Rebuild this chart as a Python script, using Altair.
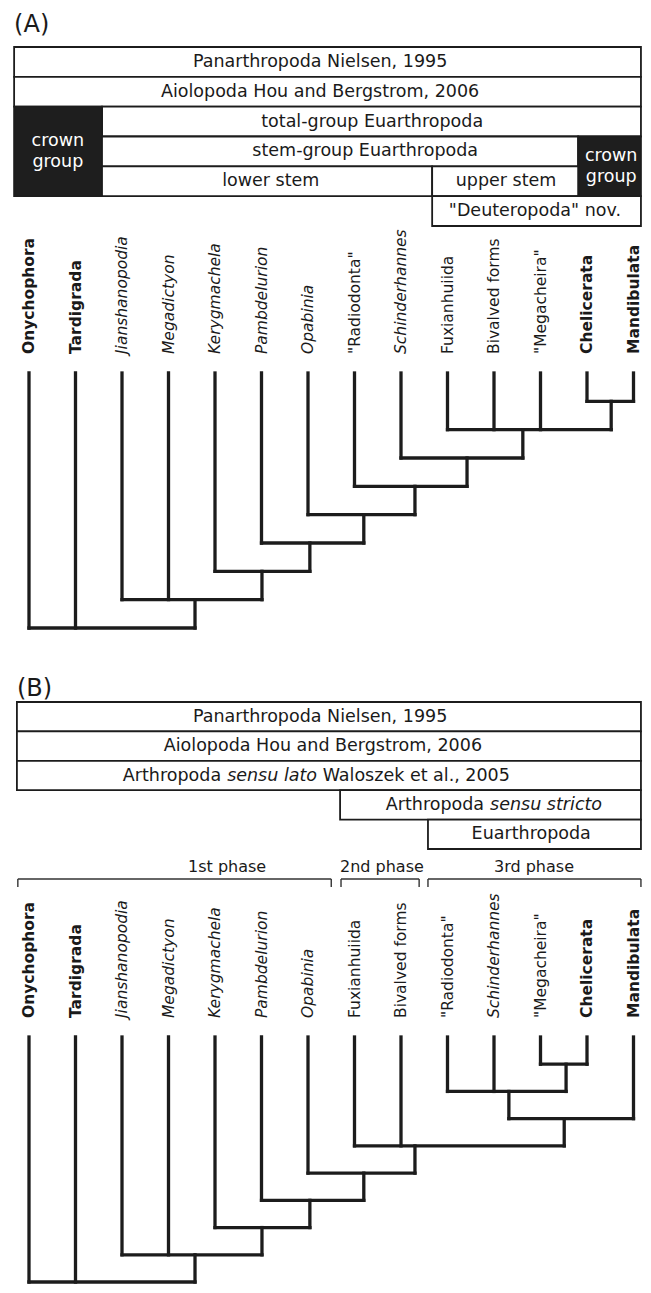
import altair as alt
import pandas as pd

W, H = 635, 1277

# ---------------- data ----------------
tips_a = ["Onychophora", "Tardigrada", "Jianshanopodia", "Megadictyon", "Kerygmachela",
          "Pambdelurion", "Opabinia", "\"Radiodonta\"", "Schinderhannes", "Fuxianhuiida",
          "Bivalved forms", "\"Megacheira\"", "Chelicerata", "Mandibulata"]
kind_a = ["crown", "crown", "genus", "genus", "genus", "genus", "genus", "other", "genus",
          "other", "other", "other", "crown", "crown"]
tips_b = ["Onychophora", "Tardigrada", "Jianshanopodia", "Megadictyon", "Kerygmachela",
          "Pambdelurion", "Opabinia", "Fuxianhuiida", "Bivalved forms", "\"Radiodonta\"",
          "Schinderhannes", "\"Megacheira\"", "Chelicerata", "Mandibulata"]
kind_b = ["crown", "crown", "genus", "genus", "genus", "genus", "genus", "other", "other",
          "other", "genus", "other", "crown", "crown"]

# internal nodes (level above tips, position in leaf units, children: leaf index or "nK")
node_a_level = [1, 2, 3, 4, 5, 6, 7, 8, 9]
node_a_x = [12.52, 10.62, 9.42, 8.30, 7.20, 6.04, 5.01, 3.57, None]
node_a_children = [[12, 13], [9, 10, 11, "n0"], [8, "n1"], [7, "n2"], [6, "n3"],
                   [5, "n4"], [4, "n5"], [2, 3, "n6"], [0, 1, "n7"]]

node_b_level = [1, 2, 3, 4, 5, 6, 7, 8, 9]
node_b_x = [11.55, 10.32, 11.51, 8.30, 7.20, 6.04, 5.01, 3.57, None]
node_b_children = [[11, 12], [9, 10, "n0"], ["n1", 13], [7, 8, "n2"], [6, "n3"],
                   [5, "n4"], [4, "n5"], [2, 3, "n6"], [0, 1, "n7"]]

# clade boxes, panel A
box_a_label = ["Panarthropoda Nielsen, 1995", "Aiolopoda Hou and Bergstrom, 2006",
               "total-group Euarthropoda", "crown\ngroup", "stem-group Euarthropoda",
               "crown\ngroup", "lower stem", "upper stem", "\"Deuteropoda\" nov."]
box_a_x0 = [-0.32, -0.32, 1.57, -0.32, 1.57, 11.81, 1.57, 8.67, 8.67]
box_a_x1 = [13.16, 13.16, 13.16, 1.57, 11.81, 13.16, 8.67, 11.81, 13.16]
box_a_r0 = [0, 1, 2, 2, 3, 3, 4, 4, 5]
box_a_r1 = [1, 2, 3, 5, 4, 5, 5, 5, 6]
box_a_crown = [False, False, False, True, False, True, False, False, False]
box_a_tx = [6.26, 6.26, 7.38, 0.62, 7.23, 12.52, 5.20, 10.26, 10.88]

# clade boxes, panel B
box_b_label = ["Panarthropoda Nielsen, 1995", "Aiolopoda Hou and Bergstrom, 2006",
               "Arthropoda sensu lato Waloszek et al., 2005", "Arthropoda sensu stricto",
               "Euarthropoda"]
box_b_x0 = [-0.26, -0.26, -0.26, 6.69, 8.58]
box_b_x1 = [13.16, 13.16, 13.16, 13.16, 13.16]
box_b_r0 = [0, 1, 2, 3, 4]
box_b_r1 = [1, 2, 3, 4, 5]
box_b_tx = [6.26, 6.32, 6.19, 10.0, 10.80]

# phases, panel B
phase_label = ["1st phase", "2nd phase", "3rd phase"]
phase_x0 = [-0.24, 6.71, 8.58]
phase_x1 = [6.50, 8.39, 13.16]
phase_tx = [4.26, 7.59, 10.86]

panel_label = ["(A)", "(B)"]

# ---------------- scales ----------------
FONT = "DejaVu Sans"
INK = "#1c1c1c"
xs = alt.Scale(domain=[0, 13], range=[21, 625.5], nice=False, zero=False)
ya_box = alt.Scale(domain=[0, 6], range=[39, 218], nice=False, zero=False)
yb_box = alt.Scale(domain=[0, 5], range=[694, 841], nice=False, zero=False)
ya_tree = alt.Scale(domain=[0, 9], range=[365, 620], nice=False, zero=False)
yb_tree = alt.Scale(domain=[0, 9], range=[1029, 1274], nice=False, zero=False)


def X(f):
    return alt.X(f, type="quantitative", scale=xs, axis=None)


def Y(f, sc):
    return alt.Y(f, type="quantitative", scale=sc, axis=None)


def tree_segments(levels, xpos, children):
    pos = {i: (float(i), 0.0) for i in range(14)}
    for k, (lv, x) in enumerate(zip(levels, xpos)):
        pos[f"n{k}"] = (x, lv)
    rows = []
    for lv, ch in zip(levels, children):
        cx = [pos[c][0] for c in ch]
        rows.append({"x": min(cx), "x2": max(cx), "y": lv, "y2": lv})
        for c in ch:
            rows.append({"x": pos[c][0], "x2": pos[c][0], "y": pos[c][1], "y2": lv})
    return pd.DataFrame(rows)


def tree_layers(tips, kinds, levels, xpos, children, ysc):
    seg = tree_segments(levels, xpos, children)
    rules = alt.Chart(seg).mark_rule(strokeWidth=3.3, color=INK, strokeCap="square").encode(
        x=X("x"), x2=alt.X2("x2"), y=Y("y", ysc), y2=alt.Y2("y2"))
    df = pd.DataFrame({"name": tips, "kind": kinds, "i": list(range(len(tips))),
                       "lvl": [0] * len(tips)})
    out = [rules]
    styles = {"crown": dict(fontWeight="bold"), "genus": dict(fontStyle="italic"), "other": {}}
    for k, st in styles.items():
        out.append(alt.Chart(df[df.kind == k]).mark_text(
            font=FONT, fontSize=15.5, angle=270, align="left", baseline="middle",
            dx=19, color="#1a1a1a", **st).encode(x=X("i"), y=Y("lvl", ysc), text="name:N"))
    return out


def box_layers(labels, x0, x1, r0, r1, crown, tx, ysc, skip=()):
    df = pd.DataFrame({"label": labels, "x0": x0, "x1": x1, "r0": r0, "r1": r1,
                       "crown": crown, "tx": tx})
    df["fill"] = df.crown.map({True: "#1e1e1e", False: "#ffffff"})
    df["ty"] = (df.r0 + df.r1) / 2
    rect = alt.Chart(df).mark_rect(stroke=INK, strokeWidth=1.8).encode(
        x=X("x0"), x2=alt.X2("x1"), y=Y("r0", ysc), y2=alt.Y2("r1"),
        fill=alt.Fill("fill:N", scale=None))
    plain = df[(~df.label.isin(skip)) & (~df.crown)]
    out = [rect]
    out.append(alt.Chart(plain).mark_text(
        font=FONT, fontSize=17.5, align="center", baseline="middle",
        color="#1a1a1a").encode(x=X("tx"), y=Y("ty", ysc), text="label:N"))
    cr = df[df.crown]
    if len(cr):
        out.append(alt.Chart(cr).mark_text(
            font=FONT, fontSize=17.5, align="center", baseline="middle", lineBreak="\n",
            lineHeight=21, dy=-10.5, color="#ffffff").encode(
            x=X("tx"), y=Y("ty", ysc), text="label:N"))
    return out, df


layers = []

# panel A boxes
la, dfa = box_layers(box_a_label, box_a_x0, box_a_x1, box_a_r0, box_a_r1, box_a_crown,
                     box_a_tx, ya_box)
layers += la
layers.append(alt.Chart(pd.DataFrame({"t": [panel_label[0]], "x": [box_a_x0[0]], "y": [-0.74]}))
              .mark_text(font=FONT, fontSize=24, align="left", baseline="middle", color="#1a1a1a")
              .encode(x=X("x"), y=Y("y", ya_box), text="t:N"))
layers += tree_layers(tips_a, kind_a, node_a_level, node_a_x, node_a_children, ya_tree)

# panel B boxes
mixed = [box_b_label[2], box_b_label[3]]
lb, dfb = box_layers(box_b_label, box_b_x0, box_b_x1, box_b_r0, box_b_r1, [False] * 5,
                     box_b_tx, yb_box, skip=mixed)
layers += lb
pieces = [
    (2, "Arthropoda", False, -194.0),
    (2, "sensu lato", True, -89.7),
    (2, "Waloszek et al., 2005", False, 5.8),
    (3, "Arthropoda", False, -108.2),
    (3, "sensu stricto", True, -3.9),
]
for row, t, ital, dx in pieces:
    d = pd.DataFrame({"t": [t], "x": [box_b_tx[row]], "y": [(box_b_r0[row] + box_b_r1[row]) / 2]})
    kw = dict(fontStyle="italic") if ital else {}
    layers.append(alt.Chart(d).mark_text(font=FONT, fontSize=17.5, align="left",
                                         baseline="middle", dx=dx, color="#1a1a1a", **kw)
                  .encode(x=X("x"), y=Y("y", yb_box), text="t:N"))
layers.append(alt.Chart(pd.DataFrame({"t": [panel_label[1]], "x": [box_b_x0[0]], "y": [-0.45]}))
              .mark_text(font=FONT, fontSize=24, align="left", baseline="middle", color="#1a1a1a")
              .encode(x=X("x"), y=Y("y", yb_box), text="t:N"))

# phase brackets
prow = []
for a, b in zip(phase_x0, phase_x1):
    prow.append({"x": a, "x2": b, "y": 6.02, "y2": 6.02})
    prow.append({"x": a, "x2": a, "y": 6.02, "y2": 6.29})
    prow.append({"x": b, "x2": b, "y": 6.02, "y2": 6.29})
layers.append(alt.Chart(pd.DataFrame(prow)).mark_rule(strokeWidth=1.4, color="#333333")
              .encode(x=X("x"), x2=alt.X2("x2"), y=Y("y", yb_box), y2=alt.Y2("y2")))
layers.append(alt.Chart(pd.DataFrame({"t": phase_label, "x": phase_tx, "y": [5.78] * 3}))
              .mark_text(font=FONT, fontSize=16, align="center", baseline="alphabetic",
                         color="#1a1a1a")
              .encode(x=X("x"), y=Y("y", yb_box), text="t:N"))

layers += tree_layers(tips_b, kind_b, node_b_level, node_b_x, node_b_children, yb_tree)

chart = (alt.layer(*layers)
         .resolve_scale(x="independent", y="independent")
         .properties(width=W, height=H, padding=0,
                     autosize=alt.AutoSizeParams(type="none"),
                     background="white")
         .configure_view(stroke=None))

chart.save("out.html", embed_options={"renderer": "svg", "actions": False})
